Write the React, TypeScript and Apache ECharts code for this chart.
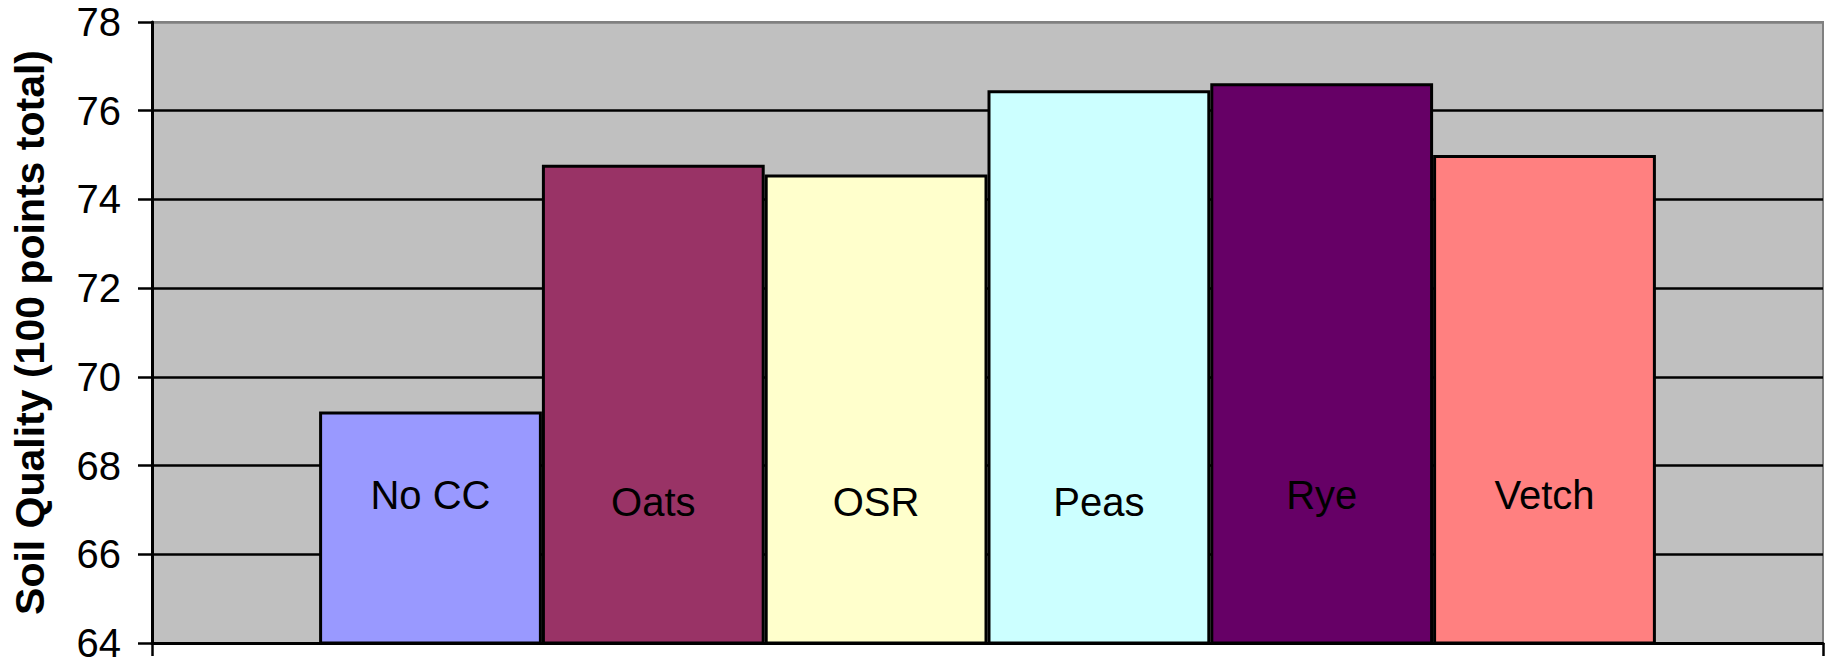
import React, { useEffect, useRef } from "react";
import * as echarts from "echarts";

const categories = ["No CC", "Oats", "OSR", "Peas", "Rye", "Vetch"];
const values = [69.22, 74.78, 74.56, 76.46, 76.62, 75.0];
const barColors = ["#9999FF", "#993366", "#FFFFCC", "#CCFFFF", "#660066", "#FF8080"];
const labelDistance = [130, 123, 123, 123, 130, 130];
const yTicks = { min: 64, max: 78, interval: 2 };
const yTitle = "Soil Quality (100 points total)";

const FONT = "'Liberation Sans', Arial, sans-serif";

export default function App() {
  const ref = useRef<HTMLDivElement>(null);
  useEffect(() => {
    if (!ref.current) return;
    const chart = echarts.init(ref.current, undefined, { renderer: "svg" });
    const nLines = (yTicks.max - yTicks.min) / yTicks.interval + 1;
    const gridColors = Array.from({ length: nLines }, (_, i) => (i === nLines - 1 ? "#808080" : "#000000"));
    chart.setOption({
      animation: false,
      backgroundColor: "#ffffff",
      grid: {
        left: 152,
        top: 22,
        right: 2,
        bottom: 16,
        show: true,
        backgroundColor: "#C0C0C0",
        borderColor: "#808080",
        borderWidth: 2,
      },
      xAxis: {
        type: "category",
        data: [""],
        boundaryGap: true,
        axisLine: { show: true, lineStyle: { color: "#000", width: 3 } },
        axisTick: { show: true, length: 13, lineStyle: { color: "#000", width: 2.5 } },
        axisLabel: { show: false },
      },
      yAxis: {
        type: "value",
        min: yTicks.min,
        max: yTicks.max,
        interval: yTicks.interval,
        name: yTitle,
        nameLocation: "middle",
        nameRotate: 90,
        nameGap: 102,
        nameTextStyle: { fontFamily: FONT, fontSize: 41, fontWeight: "bold", color: "#000" },
        axisLine: { show: true, lineStyle: { color: "#000", width: 3 } },
        axisTick: { show: true, length: 14, lineStyle: { color: "#000", width: 2.5 } },
        axisLabel: { fontFamily: FONT, fontSize: 40, color: "#000", margin: 31 },
        splitLine: { show: true, lineStyle: { color: gridColors, width: 2.5 } },
      },
      series: categories.map((name, i) => ({
        type: "bar",
        name,
        data: [values[i]],
        barGap: "0%",
        barCategoryGap: "20%",
        itemStyle: { color: barColors[i], borderColor: "#000", borderWidth: 3 },
        label: {
          show: true,
          position: "insideBottom",
          distance: labelDistance[i],
          formatter: name,
          fontFamily: FONT,
          fontSize: 40,
          color: "#000",
        },
      })),
    });
    return () => chart.dispose();
  }, []);
  return (
    <div
      ref={ref}
      style={{ position: "fixed", left: 0, top: 0, width: 1825, height: 663 }}
    />
  );
}
